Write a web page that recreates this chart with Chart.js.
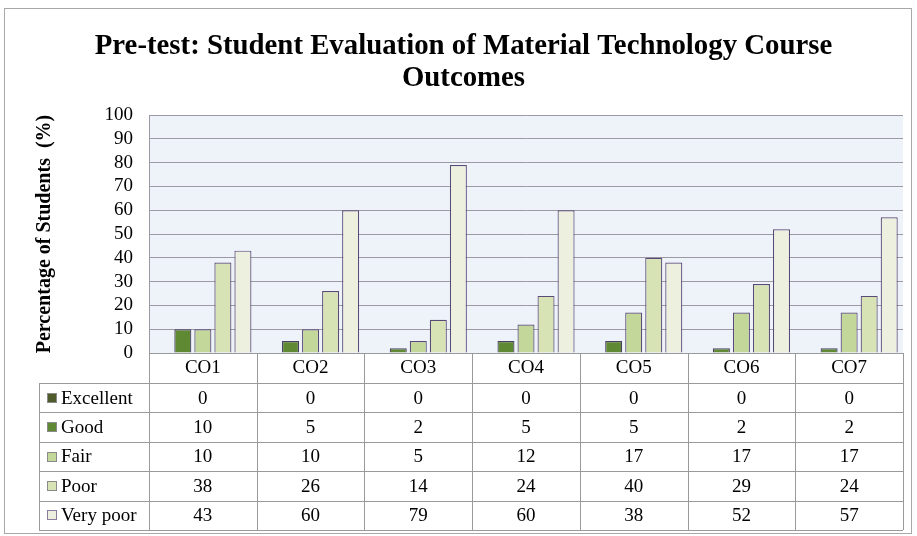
<!DOCTYPE html>
<html><head><meta charset="utf-8">
<script src="https://cdn.jsdelivr.net/npm/chart.js@4/dist/chart.umd.min.js"></script>
<style>html,body{margin:0;padding:0;background:#fff;}#wrap{width:917px;height:536px;}</style>
</head><body><div id="wrap"><canvas id="c" width="917" height="536"></canvas></div>
<script>
const categories = ['CO1','CO2','CO3','CO4','CO5','CO6','CO7'];
const seriesNames = ['Excellent','Good','Fair','Poor','Very poor'];
const excellent = [0,0,0,0,0,0,0];
const good = [10,5,2,5,5,2,2];
const fair = [10,10,5,12,17,17,17];
const poor = [38,26,14,24,40,29,24];
const veryPoor = [43,60,79,60,38,52,57];
const yTickValues = [0,10,20,30,40,50,60,70,80,90,100];
const titleLines = ['Pre-test: Student Evaluation of Material Technology Course','Outcomes'];
const yTitle = 'Percentage of Students  (%)';

const seriesValues = [excellent, good, fair, poor, veryPoor];
const fills = ['#4f5b2b','#5f8a33','#c4d79b','#d7e3b5','#edf0df'];
const borders = ['#3f4a22','#4a3f63','#5a4a78','#5a4a78','#5a4a78'];
const SERIF = "'Liberation Serif','Times New Roman',serif";

const tablePlugin = {
  id: 'tablePlugin',
  beforeDraw(chart) {
    const ctx = chart.ctx, a = chart.chartArea;
    ctx.save();
    ctx.fillStyle = '#ffffff';
    ctx.fillRect(0, 0, chart.width, chart.height);
    ctx.strokeStyle = '#a8a8a8';
    ctx.lineWidth = 1;
    ctx.strokeRect(4.5, 8.5, 907, 525);
    ctx.fillStyle = '#eef3fa';
    ctx.fillRect(a.left, a.top, a.right - a.left, a.bottom - a.top);
    ctx.restore();
  },
  afterDraw(chart) {
    const ctx = chart.ctx, a = chart.chartArea;
    const xs = chart.scales.x;
    const n = categories.length;
    const colW = (a.right - a.left) / n;
    const headerH = 30;
    const tableBottom = 530;
    const legendLeft = 39;
    const rowTop = a.bottom + headerH;
    const rowH = (tableBottom - rowTop) / seriesNames.length;
    const px = v => Math.round(v) + 0.5;
    ctx.save();
    ctx.strokeStyle = '#9a9a9a';
    ctx.lineWidth = 1;
    ctx.beginPath();
    ctx.moveTo(a.left, px(a.bottom)); ctx.lineTo(a.right, px(a.bottom));
    for (let i = 0; i <= n; i++) {
      const x = px(a.left + i * colW);
      ctx.moveTo(x, a.bottom); ctx.lineTo(x, tableBottom);
    }
    ctx.moveTo(px(legendLeft), rowTop); ctx.lineTo(px(legendLeft), tableBottom);
    for (let r = 0; r <= seriesNames.length; r++) {
      const y = px(rowTop + r * rowH);
      ctx.moveTo(legendLeft, y); ctx.lineTo(a.right, y);
    }
    ctx.stroke();
    ctx.font = '19px ' + SERIF;
    ctx.textBaseline = 'middle';
    for (let r = 0; r < seriesNames.length; r++) {
      const yc = rowTop + r * rowH + rowH / 2;
      ctx.fillStyle = fills[r];
      ctx.fillRect(47, Math.round(yc - 5), 10, 10);
      ctx.strokeStyle = r === 4 ? '#8c7d9e' : '#8a8a8a';
      ctx.strokeRect(47.5, Math.round(yc - 5) + 0.5, 9, 9);
      ctx.fillStyle = '#000';
      ctx.textAlign = 'left';
      ctx.fillText(seriesNames[r], 61, yc + 1);
      ctx.textAlign = 'center';
      for (let i = 0; i < n; i++) {
        ctx.fillText(String(seriesValues[r][i]), xs.getPixelForValue(i), yc + 1);
      }
    }
    ctx.restore();
  }
};

const datasets = seriesNames.map((name, k) => ({
  label: name,
  data: seriesValues[k],
  backgroundColor: fills[k],
  borderColor: borders[k],
  borderWidth: k === 0 ? 0 : 1.2,
  categoryPercentage: 0.93,
  barPercentage: 0.85
}));

new Chart(document.getElementById('c'), {
  type: 'bar',
  data: { labels: categories, datasets },
  plugins: [tablePlugin],
  options: {
    responsive: false,
    animation: false,
    layout: { padding: { left: 24, right: 14, top: 0, bottom: 153 } },
    plugins: {
      legend: { display: false },
      tooltip: { enabled: false },
      title: {
        display: true,
        text: titleLines,
        color: '#000',
        font: { family: SERIF, size: 28.8, weight: 'bold', lineHeight: '32px' },
        padding: { top: 31, bottom: 20 }
      }
    },
    scales: {
      x: {
        grid: { display: false, drawTicks: false },
        border: { display: false },
        ticks: { color: '#000', font: { family: SERIF, size: 19 }, padding: 4, maxRotation: 0 },
        afterFit(s) { s.height = 30; }
      },
      y: {
        min: 0, max: 100,
        afterBuildTicks(s) { s.ticks = yTickValues.map(v => ({ value: v })); },
        grid: { color: '#9c98a6', lineWidth: 1, drawTicks: false },
        border: { display: true, color: '#9c98a6' },
        ticks: { color: '#000', font: { family: SERIF, size: 19 }, padding: 16, autoSkip: false, stepSize: 10 },
        title: {
          display: true, text: yTitle, color: '#000',
          font: { family: SERIF, size: 20, weight: 'bold' },
          padding: { top: 9, bottom: 0 }
        },
        afterFit(s) { s.width = 125; }
      }
    }
  }
});
</script></body></html>
